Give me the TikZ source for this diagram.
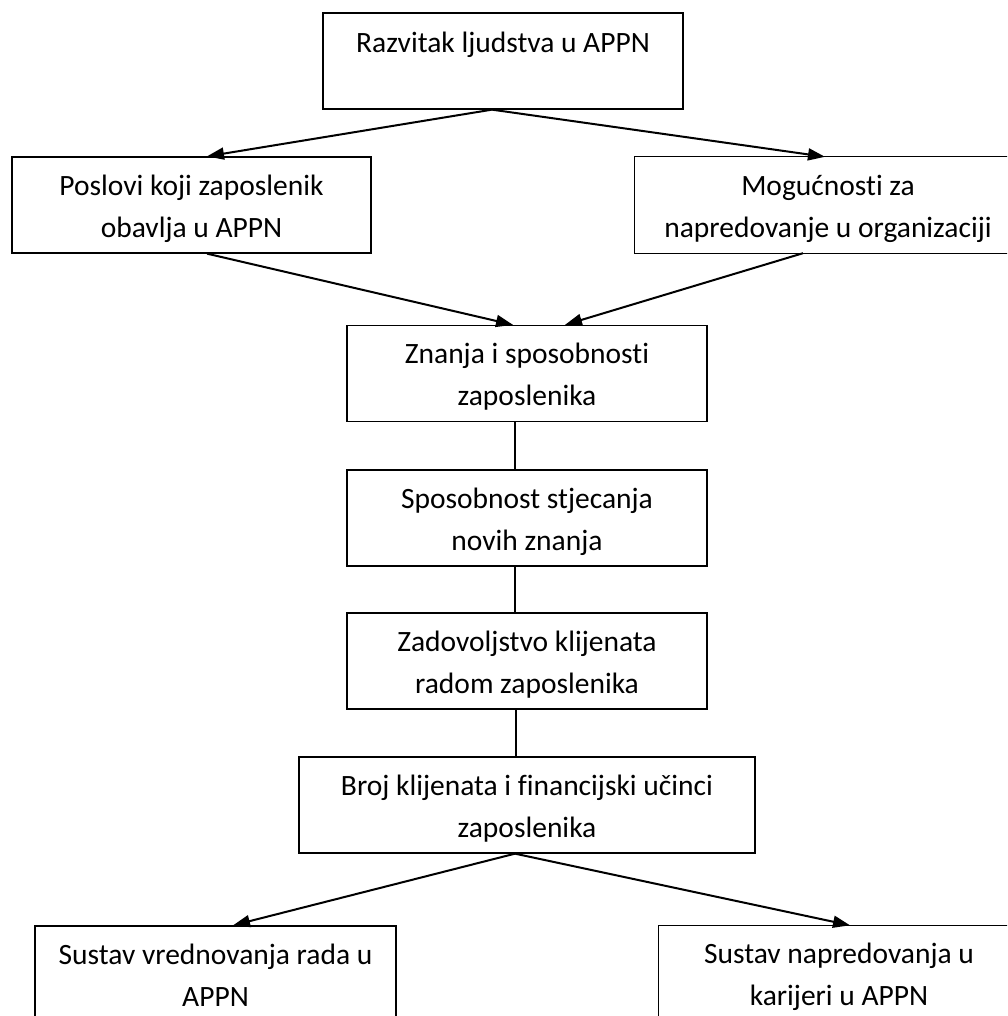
\documentclass[tikz,border=0pt]{standalone}
\usepackage{fontspec}
\setmainfont[Ligatures=NoCommon]{Carlito}
\usetikzlibrary{arrows.meta}
\begin{document}
\begin{tikzpicture}[x=1pt,y=-1pt,
  plain/.style={rectangle, inner sep=0pt, minimum height=96pt, align=center,
    text height=72pt, text depth=8pt,
    font=\fontsize{29.5}{42}\selectfont},
  box/.style={plain, draw, line width=1.3pt},
  oneline/.style={text height=32pt, text depth=48pt},
  frame/.style={line width=1.3pt},
  flow/.style={line width=2pt, -{Triangle[length=17pt,width=12pt]}},
  link/.style={line width=1.3pt}]
\useasboundingbox (0,0) rectangle (1007,1016);
\clip (0,0) rectangle (1007,1016);

\node[box, oneline, minimum width=360pt] (top) at (503,61)
  {Razvitak ljudstva u APPN};
\node[box, minimum width=359pt] (left) at (191.5,205)
  {Poslovi koji zaposlenik\\obavlja u APPN};
\node[plain, minimum width=386pt] (right) at (828,205)
  {Mogućnosti za\\napredovanje u organizaciji};
\node[box, minimum width=360pt] (znanja) at (527,373.5)
  {Znanja i sposobnosti\\zaposlenika};
\node[box, minimum width=360pt] (sposob) at (527,518)
  {Sposobnost stjecanja\\novih znanja};
\node[box, minimum width=360pt] (zadov) at (527,661)
  {Zadovoljstvo klijenata\\radom zaposlenika};
\node[box, minimum width=456pt] (broj) at (527,805)
  {Broj klijenata i financijski učinci\\zaposlenika};
\node[box, minimum width=361pt] (vred) at (215.5,974)
  {Sustav vrednovanja rada u\\APPN};
\node[plain, minimum width=360pt] (kar) at (839,973.5)
  {Sustav napredovanja u\\karijeri u APPN};

% the two right-hand frames run on past the right edge
\draw[frame] ([xshift=60pt]right.north east) -- (right.north west)
  -- (right.south west) -- ([xshift=60pt]right.south east);
\draw[frame] ([xshift=60pt]kar.north east) -- (kar.north west)
  -- (kar.south west) -- ([xshift=60pt]kar.south east);

\draw[flow] ([xshift=-11pt]top.south) -- ([xshift=15.5pt]left.north);
\draw[flow] ([xshift=-11pt]top.south) -- ([xshift=-3pt]right.north);
\draw[flow] ([xshift=15.5pt]left.south) -- ([xshift=-14pt]znanja.north);
\draw[flow] ([xshift=-25pt]right.south) -- ([xshift=38pt]znanja.north);
\draw[link] ([xshift=-12pt]znanja.south) -- ([xshift=-12pt]sposob.north);
\draw[link] ([xshift=-12pt]sposob.south) -- ([xshift=-12pt]zadov.north);
\draw[link] ([xshift=-11pt]zadov.south) -- ([xshift=-11pt]broj.north);
\draw[flow] ([xshift=-12pt]broj.south) -- ([xshift=17.5pt]vred.north);
\draw[flow] ([xshift=-12pt]broj.south) -- ([xshift=11pt]kar.north);
\end{tikzpicture}
\end{document}
